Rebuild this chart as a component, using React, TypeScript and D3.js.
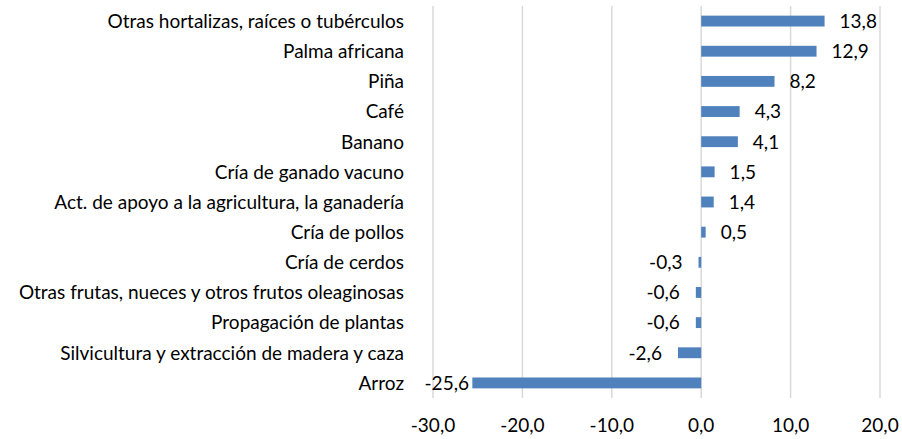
import { useEffect, useRef } from 'react';
import * as d3 from 'd3';

// Chart data
const categories = [
  "Otras hortalizas, raíces o tubérculos",
  "Palma africana",
  "Piña",
  "Café",
  "Banano",
  "Cría de ganado vacuno",
  "Act. de apoyo a la agricultura, la ganadería",
  "Cría de pollos",
  "Cría de cerdos",
  "Otras frutas, nueces y otros frutos oleaginosas",
  "Propagación de plantas",
  "Silvicultura y extracción de madera y caza",
  "Arroz",
];
const values = [13.8, 12.9, 8.2, 4.3, 4.1, 1.5, 1.4, 0.5, -0.3, -0.6, -0.6, -2.6, -25.6];
const ticks = [-30, -20, -10, 0, 10, 20];

const BAR_COLOR = "#4F81BD";
const GRID_COLOR = "#D9D9D9";
const TEXT_COLOR = "#000000";
const FONT = "Lato, 'Open Sans', sans-serif";
const FONT_SIZE = 19;

export default function App() {
  const ref = useRef<SVGSVGElement>(null);

  useEffect(() => {
    if (!ref.current) return;
    const svg = d3.select(ref.current);
    svg.selectAll("*").remove();

    const width = 902;
    const height = 439;
    const margin = { top: 6, right: 22, bottom: 41, left: 433 };

    const x = d3.scaleLinear()
      .domain([-30, 20])
      .range([margin.left, width - margin.right]);

    const y = d3.scaleBand()
      .domain(categories)
      .range([margin.top, height - margin.bottom])
      .paddingInner(0.64)
      .paddingOuter(0.32);

    // Gridlines
    svg.append("g")
      .selectAll("line")
      .data(ticks)
      .join("line")
      .attr("x1", d => x(d))
      .attr("x2", d => x(d))
      .attr("y1", margin.top)
      .attr("y2", height - margin.bottom)
      .attr("stroke", GRID_COLOR)
      .attr("stroke-width", 1.5);

    // Bars
    svg.append("g")
      .selectAll("rect")
      .data(values)
      .join("rect")
      .attr("x", d => x(Math.min(0, d)))
      .attr("width", d => Math.abs(x(d) - x(0)))
      .attr("y", (_, i) => y(categories[i])!)
      .attr("height", y.bandwidth())
      .attr("fill", BAR_COLOR);

    const fmt = (v: number) => v.toFixed(1).replace(".", ",");

    // Value labels
    svg.append("g")
      .attr("font-family", FONT)
      .attr("font-size", FONT_SIZE)
      .attr("fill", TEXT_COLOR)
      .selectAll("text")
      .data(values)
      .join("text")
      .attr("x", d => d >= 0 ? x(d) + 15 : Math.max(x(d) - 16, x(-30) + 36))
      .attr("y", (_, i) => y(categories[i])! + y.bandwidth() / 2)
      .attr("dy", "0.36em")
      .attr("text-anchor", d => d >= 0 ? "start" : "end")
      .text(d => fmt(d));

    // Category labels
    svg.append("g")
      .attr("font-family", FONT)
      .attr("font-size", FONT_SIZE)
      .attr("fill", TEXT_COLOR)
      .selectAll("text")
      .data(categories)
      .join("text")
      .attr("x", 404)
      .attr("y", d => y(d)! + y.bandwidth() / 2)
      .attr("dy", "0.36em")
      .attr("text-anchor", "end")
      .text(d => d);

    // X tick labels
    svg.append("g")
      .attr("font-family", FONT)
      .attr("font-size", FONT_SIZE)
      .attr("fill", TEXT_COLOR)
      .selectAll("text")
      .data(ticks)
      .join("text")
      .attr("x", d => x(d))
      .attr("y", height - margin.bottom + 34)
      .attr("text-anchor", "middle")
      .text(d => fmt(d));
  }, []);

  return (
    <svg
      ref={ref}
      width={902}
      height={439}
      style={{ position: 'absolute', left: 0, top: 0, background: '#fff' }}
    />
  );
}
